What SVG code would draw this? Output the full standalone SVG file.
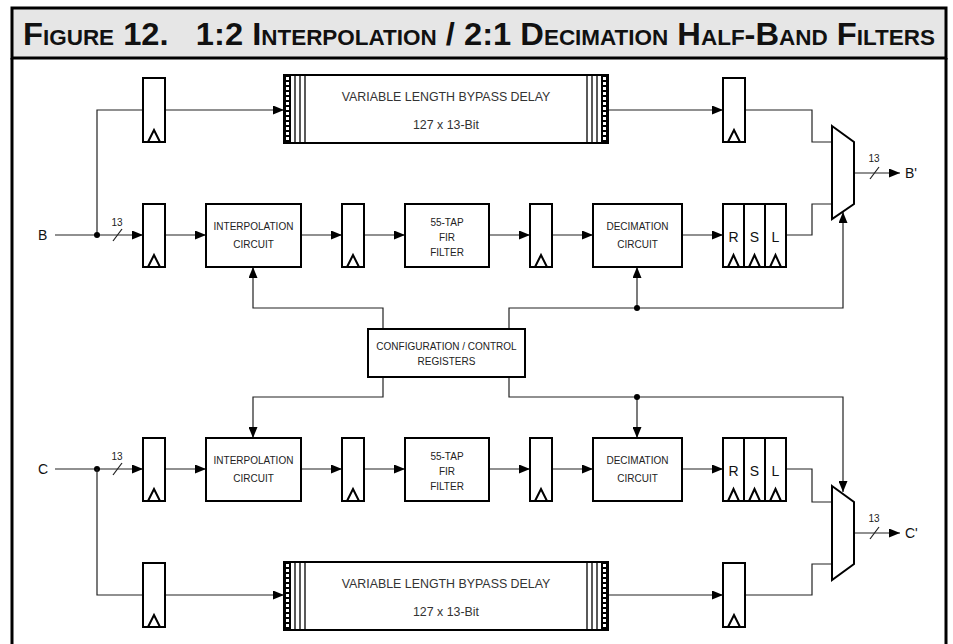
<svg xmlns="http://www.w3.org/2000/svg" width="953" height="644" viewBox="0 0 953 644">
<defs>
<marker id="ah" markerUnits="userSpaceOnUse" markerWidth="11" markerHeight="9" refX="11" refY="4.5" orient="auto">
<path d="M0,0 L11,4.5 L0,9 z" fill="#000"/>
</marker>
<style>
.box{fill:#fff;stroke:#000;stroke-width:2}
.w{fill:none;stroke:#222;stroke-width:1.2}
.a{marker-end:url(#ah)}
.clk{fill:none;stroke:#000;stroke-width:2}
.t{font-family:"Liberation Sans",Arial,sans-serif;font-size:10px;text-anchor:middle;fill:#222}
.big{font-family:"Liberation Sans",Arial,sans-serif;font-size:14px;fill:#111}
.bp{font-family:"Liberation Sans",Arial,sans-serif;font-size:12.4px;text-anchor:middle;fill:#333}
.v{stroke:#000;stroke-width:1.3}
.hs{stroke:#fff;stroke-width:3;stroke-dasharray:3 2}
</style>
</defs>
<rect x="0" y="0" width="953" height="644" fill="#fff"/>
<g id="frame">
<rect x="12" y="8" width="934" height="50" fill="#e6e6e6" stroke="#000" stroke-width="3"/>
<line x1="12" y1="58" x2="12" y2="644" stroke="#000" stroke-width="3"/>
<line x1="946" y1="58" x2="946" y2="644" stroke="#000" stroke-width="3"/>
<text x="23" y="45" xml:space="preserve" textLength="912" lengthAdjust="spacingAndGlyphs" font-family="'Liberation Sans',Arial,sans-serif" font-weight="bold" font-size="32" font-variant="small-caps" fill="#111">Figure 12.   1:2 Interpolation / 2:1 Decimation Half-Band Filters</text>
</g>

<g id="connectors">
<line class="w a" x1="55" y1="235" x2="143" y2="235"/>
<polyline class="w" points="97,235 97,110 143,110"/>
<line class="w a" x1="165" y1="110" x2="284" y2="110"/>
<line class="w a" x1="608" y1="110" x2="723" y2="110"/>
<polyline class="w" points="745,110 812,110 812,142 832,142"/>
<line class="w a" x1="165" y1="235" x2="206" y2="235"/>
<line class="w a" x1="301" y1="235" x2="342" y2="235"/>
<line class="w a" x1="364" y1="235" x2="405" y2="235"/>
<line class="w a" x1="489" y1="235" x2="530" y2="235"/>
<line class="w a" x1="552" y1="235" x2="593" y2="235"/>
<line class="w a" x1="682" y1="235" x2="723" y2="235"/>
<polyline class="w" points="786,235 812,235 812,204 832,204"/>
<line class="w a" x1="854" y1="173" x2="900" y2="173"/>
<line class="w" x1="113" y1="241" x2="122" y2="229"/>
<line class="w" x1="870" y1="179" x2="879" y2="167"/>
<polyline class="w a" points="383,329 383,308 253,308 253,267"/>
<polyline class="w a" points="509,329 509,308 843,308 843,212"/>
<line class="w a" x1="637" y1="308" x2="637" y2="267"/>
<circle cx="637" cy="308" r="3" fill="#000"/>
<circle cx="97" cy="235" r="3" fill="#000"/>
<polyline class="w a" points="383,377 383,397 253,397 253,438"/>
<polyline class="w a" points="509,377 509,397 843,397 843,492"/>
<line class="w a" x1="637" y1="397" x2="637" y2="438"/>
<circle cx="637" cy="397" r="3" fill="#000"/>
<line class="w a" x1="55" y1="469" x2="143" y2="469"/>
<circle cx="97" cy="469" r="3" fill="#000"/>
<polyline class="w" points="97,469 97,595 143,595"/>
<line class="w a" x1="165" y1="595" x2="284" y2="595"/>
<line class="w a" x1="608" y1="595" x2="723" y2="595"/>
<polyline class="w" points="745,595 812,595 812,564 832,564"/>
<line class="w a" x1="165" y1="469" x2="206" y2="469"/>
<line class="w a" x1="301" y1="469" x2="342" y2="469"/>
<line class="w a" x1="364" y1="469" x2="405" y2="469"/>
<line class="w a" x1="489" y1="469" x2="530" y2="469"/>
<line class="w a" x1="552" y1="469" x2="593" y2="469"/>
<line class="w a" x1="682" y1="469" x2="723" y2="469"/>
<polyline class="w" points="786,469 812,469 812,502 832,502"/>
<line class="w a" x1="854" y1="533" x2="900" y2="533"/>
<line class="w" x1="113" y1="475" x2="122" y2="463"/>
<line class="w" x1="870" y1="539" x2="879" y2="527"/>
</g>

<g id="labels-io">
<text class="big" x="38" y="240">B</text>
<text class="big" x="38" y="474">C</text>
<text class="big" x="905" y="178">B'</text>
<text class="big" x="905" y="538">C'</text>
<text class="t" x="117" y="226">13</text>
<text class="t" x="117" y="460">13</text>
<text class="t" x="874" y="162">13</text>
<text class="t" x="874" y="522">13</text>
</g>

<g id="reg-tb1"><rect class="box" x="143" y="78" width="22" height="64"/><polyline class="clk" points="148,142 154,130 160,142"/></g>
<g id="bypass-top">
<rect class="box" x="284" y="75" width="324" height="68"/>
<rect x="284" y="75" width="7" height="68" fill="#000"/>
<line class="hs" x1="287.5" y1="77" x2="287.5" y2="141"/>
<line class="v" x1="295" y1="75" x2="295" y2="143"/>
<line class="v" x1="300" y1="75" x2="300" y2="143"/>
<line class="v" x1="305" y1="75" x2="305" y2="143"/>
<line class="v" x1="587" y1="75" x2="587" y2="143"/>
<line class="v" x1="592" y1="75" x2="592" y2="143"/>
<line class="v" x1="597" y1="75" x2="597" y2="143"/>
<rect x="601" y="75" width="7" height="68" fill="#000"/>
<line class="hs" x1="604.5" y1="77" x2="604.5" y2="141"/>
<text class="bp" x="446" y="101">VARIABLE LENGTH BYPASS DELAY</text>
<text class="bp" x="446" y="129">127 x 13-Bit</text>
</g>
<g id="reg-tb2"><rect class="box" x="723" y="78" width="22" height="64"/><polyline class="clk" points="728,142 734,130 740,142"/></g>

<g id="reg-t1"><rect class="box" x="143" y="204" width="22" height="63"/><polyline class="clk" points="148,267 154,255 160,267"/></g>
<g id="interp-top"><rect class="box" x="206" y="204" width="95" height="63"/><text class="t" x="253.5" y="230">INTERPOLATION</text><text class="t" x="253.5" y="248">CIRCUIT</text></g>
<g id="reg-t2"><rect class="box" x="342" y="204" width="22" height="63"/><polyline class="clk" points="347,267 353,255 359,267"/></g>
<g id="fir-top"><rect class="box" x="405" y="204" width="84" height="63"/><text class="t" x="447" y="226">55-TAP</text><text class="t" x="447" y="241">FIR</text><text class="t" x="447" y="256">FILTER</text></g>
<g id="reg-t3"><rect class="box" x="530" y="204" width="22" height="63"/><polyline class="clk" points="535,267 541,255 547,267"/></g>
<g id="dec-top"><rect class="box" x="593" y="204" width="89" height="63"/><text class="t" x="637.5" y="230">DECIMATION</text><text class="t" x="637.5" y="248">CIRCUIT</text></g>
<g id="rsl-top">
<rect class="box" x="723" y="204" width="21" height="63"/><rect class="box" x="744" y="204" width="21" height="63"/><rect class="box" x="765" y="204" width="21" height="63"/>
<polyline class="clk" points="728,267 733.5,255 739,267"/><polyline class="clk" points="749,267 754.5,255 760,267"/><polyline class="clk" points="770,267 775.5,255 781,267"/>
<text class="big" x="733.5" y="242" text-anchor="middle">R</text><text class="big" x="754.5" y="242" text-anchor="middle">S</text><text class="big" x="775.5" y="242" text-anchor="middle">L</text>
</g>
<g id="mux-top"><polygon class="box" points="832,126 854,142 854,204 832,219"/></g>

<g id="config"><rect class="box" x="368" y="329" width="157" height="48"/><text class="t" x="446.5" y="350">CONFIGURATION / CONTROL</text><text class="t" x="446.5" y="365">REGISTERS</text></g>

<g id="reg-b1"><rect class="box" x="143" y="438" width="22" height="63"/><polyline class="clk" points="148,501 154,489 160,501"/></g>
<g id="interp-bot"><rect class="box" x="206" y="438" width="95" height="63"/><text class="t" x="253.5" y="464">INTERPOLATION</text><text class="t" x="253.5" y="482">CIRCUIT</text></g>
<g id="reg-b2"><rect class="box" x="342" y="438" width="22" height="63"/><polyline class="clk" points="347,501 353,489 359,501"/></g>
<g id="fir-bot"><rect class="box" x="405" y="438" width="84" height="63"/><text class="t" x="447" y="460">55-TAP</text><text class="t" x="447" y="475">FIR</text><text class="t" x="447" y="490">FILTER</text></g>
<g id="reg-b3"><rect class="box" x="530" y="438" width="22" height="63"/><polyline class="clk" points="535,501 541,489 547,501"/></g>
<g id="dec-bot"><rect class="box" x="593" y="438" width="89" height="63"/><text class="t" x="637.5" y="464">DECIMATION</text><text class="t" x="637.5" y="482">CIRCUIT</text></g>
<g id="rsl-bot">
<rect class="box" x="723" y="438" width="21" height="63"/><rect class="box" x="744" y="438" width="21" height="63"/><rect class="box" x="765" y="438" width="21" height="63"/>
<polyline class="clk" points="728,501 733.5,489 739,501"/><polyline class="clk" points="749,501 754.5,489 760,501"/><polyline class="clk" points="770,501 775.5,489 781,501"/>
<text class="big" x="733.5" y="476" text-anchor="middle">R</text><text class="big" x="754.5" y="476" text-anchor="middle">S</text><text class="big" x="775.5" y="476" text-anchor="middle">L</text>
</g>
<g id="mux-bot"><polygon class="box" points="832,486 854,502 854,564 832,580"/></g>

<g id="reg-bb1"><rect class="box" x="143" y="563" width="22" height="64"/><polyline class="clk" points="148,627 154,615 160,627"/></g>
<g id="bypass-bot">
<rect class="box" x="284" y="562" width="324" height="68"/>
<rect x="284" y="562" width="7" height="68" fill="#000"/>
<line class="hs" x1="287.5" y1="564" x2="287.5" y2="628"/>
<line class="v" x1="295" y1="562" x2="295" y2="630"/>
<line class="v" x1="300" y1="562" x2="300" y2="630"/>
<line class="v" x1="305" y1="562" x2="305" y2="630"/>
<line class="v" x1="587" y1="562" x2="587" y2="630"/>
<line class="v" x1="592" y1="562" x2="592" y2="630"/>
<line class="v" x1="597" y1="562" x2="597" y2="630"/>
<rect x="601" y="562" width="7" height="68" fill="#000"/>
<line class="hs" x1="604.5" y1="564" x2="604.5" y2="628"/>
<text class="bp" x="446" y="588">VARIABLE LENGTH BYPASS DELAY</text>
<text class="bp" x="446" y="616">127 x 13-Bit</text>
</g>
<g id="reg-bb2"><rect class="box" x="723" y="563" width="22" height="64"/><polyline class="clk" points="728,627 734,615 740,627"/></g>
</svg>
